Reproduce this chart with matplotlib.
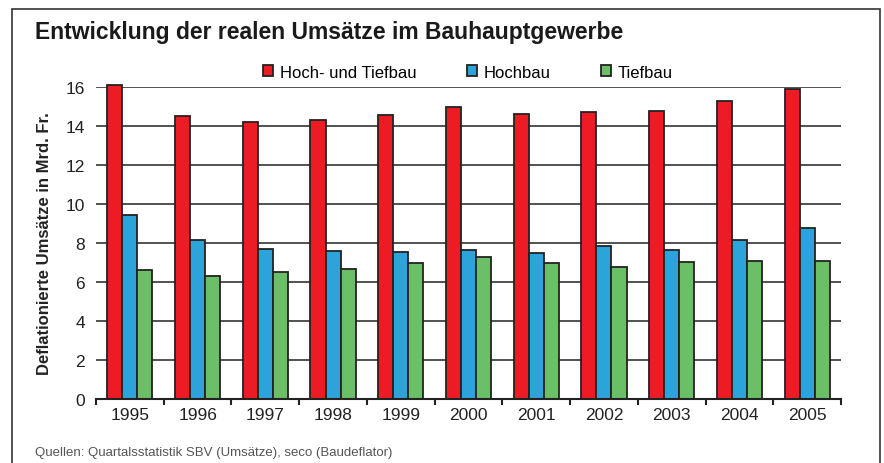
import matplotlib
matplotlib.use("Agg")
import matplotlib.pyplot as plt
import matplotlib.patches as mpatches
import numpy as np

years = ["1995", "1996", "1997", "1998", "1999", "2000", "2001", "2002", "2003", "2004", "2005"]
hoch_tief = [16.1, 14.5, 14.2, 14.3, 14.55, 15.0, 14.6, 14.7, 14.75, 15.3, 15.9]
hochbau = [9.45, 8.15, 7.7, 7.6, 7.55, 7.65, 7.5, 7.85, 7.65, 8.15, 8.75]
tiefbau = [6.6, 6.3, 6.5, 6.65, 7.0, 7.3, 7.0, 6.75, 7.05, 7.1, 7.1]
series_names = ["Hoch- und Tiefbau", "Hochbau", "Tiefbau"]
colors = ["#ED1C24", "#2CA3DA", "#6BBF67"]
yticks = [0, 2, 4, 6, 8, 10, 12, 14, 16]

plt.rcParams['font.family'] = ['Liberation Sans', 'DejaVu Sans']

W, H = 884, 464
fig = plt.figure(figsize=(W / 100, H / 100), dpi=100)
ax = fig.add_axes([96 / W, 1 - 400 / H, (841 - 96) / W, (400 - 88) / H])

x = np.arange(len(years))
bw = 0.222
edge = "#222222"
handles = []
for i, (vals, name, c) in enumerate(zip([hoch_tief, hochbau, tiefbau], series_names, colors)):
    b = ax.bar(x + (i - 1) * bw, vals, width=bw, color=c, edgecolor=edge,
               linewidth=1.3, label=name, zorder=3, clip_on=False)
    handles.append(b)

ax.set_xlim(-0.5, len(years) - 0.5)
ax.set_ylim(0, 16)
ax.set_yticks(yticks)
ax.set_yticklabels([str(v) for v in yticks], fontsize=12.5, color="#222222")
ax.yaxis.grid(True, color="#333333", linewidth=1.2, zorder=0)
ax.tick_params(axis="y", length=0, pad=8)

ax.set_xticks(x)
ax.set_xticklabels(years, fontsize=12.5, color="#222222")
ax.tick_params(axis="x", which="major", length=0, pad=6)
ax.set_xticks(np.arange(-0.5, len(years)), minor=True)
ax.tick_params(axis="x", which="minor", length=4, width=1.5, color="#222222", direction="out")

for s in ["left", "right", "top"]:
    ax.spines[s].set_visible(False)
ax.spines["bottom"].set_color("#222222")
ax.spines["bottom"].set_linewidth(1.5)
ax.spines["bottom"].set_zorder(4)

ax.set_ylabel("Deflationierte Umsätze in Mrd. Fr.", fontsize=12, fontweight="bold",
              color="#222222", labelpad=10)

fig.text(35 / W, 1 - 33 / H, "Entwicklung der realen Umsätze im Bauhauptgewerbe",
         fontsize=16.5, fontweight="bold", color="#1a1a1a", va="center", ha="left")

fig.text(35 / W, 1 - 453 / H, "Quellen: Quartalsstatistik SBV (Umsätze), seco (Baudeflator)",
         fontsize=9.5, color="#555555", va="center", ha="left")

leg = fig.legend(handles=handles, loc="center", bbox_to_anchor=(468 / W, 1 - 73 / H),
                 ncol=3, frameon=False, fontsize=12, handlelength=0.6, handleheight=0.6,
                 handletextpad=0.42, columnspacing=3.0, borderaxespad=0)

frame = mpatches.Rectangle((12 / W, -0.05), (880 - 12) / W, 1.05 - 10 / H,
                           transform=fig.transFigure, fill=False, edgecolor="#333333",
                           linewidth=1.2, clip_on=False)
fig.patches.append(frame)

fig.savefig("out.png", dpi=100)
